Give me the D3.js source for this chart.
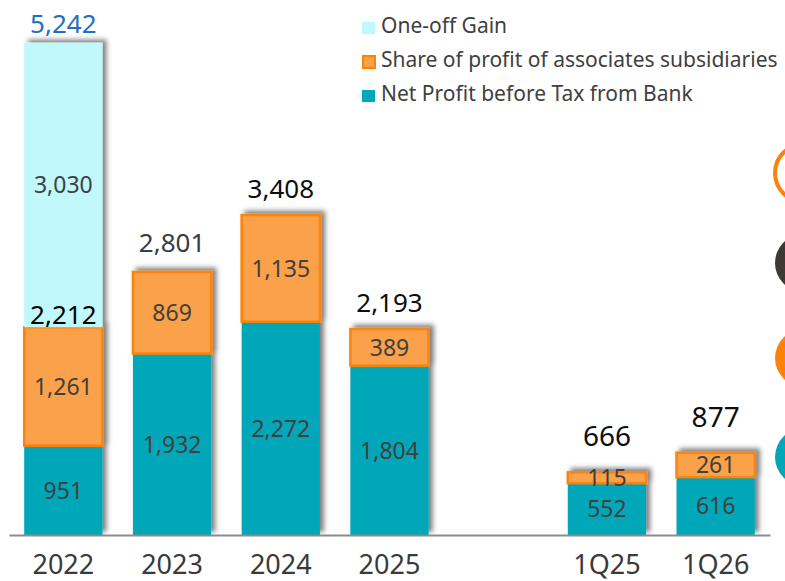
<!DOCTYPE html>
<html>
<head>
<meta charset="utf-8">
<script src="https://cdn.jsdelivr.net/npm/d3@7"></script>
<style>
  body { margin: 0; background: #fff; }
  svg { display: block; font-family: "Noto Sans", "Open Sans", sans-serif; }
</style>
</head>
<body>
<div id="chart"></div>
<script>
const categories = ['2022', '2023', '2024', '2025', '1Q25', '1Q26'];
const bankProfit = [951, 1932, 2272, 1804, 552, 616];
const associatesShare = [1261, 869, 1135, 389, 115, 261];
const oneOffGain = [3030, 0, 0, 0, 0, 0];
const totals = [5242, 2801, 3408, 2193, 666, 877];
const seriesNames = ['One-off Gain', 'Share of profit of associates subsidiaries', 'Net Profit before Tax from Bank'];

const width = 785, height = 581;
const baseY = 535;
const colors = { bank: '#00a7b9', share: '#fba148', shareStroke: '#ff8208', oneOff: '#c1f8fc' };

const svg = d3.select('#chart').append('svg')
  .attr('width', width)
  .attr('height', height);

// soft shadow under the bars
const defs = svg.append('defs');
defs.append('filter')
  .attr('id', 'shadow')
  .attr('x', '-20%').attr('y', '-20%')
  .attr('width', '140%').attr('height', '140%')
  .append('feDropShadow')
  .attr('dx', 4).attr('dy', -3)
  .attr('stdDeviation', 2.5)
  .attr('flood-color', '#000')
  .attr('flood-opacity', 0.5);

// one empty slot between the years and the quarters
const slots = categories.slice(0, 4).concat(['gap'], categories.slice(4));
const x = d3.scaleBand()
  .domain(slots)
  .range([9, 770])
  .paddingInner(0.28)
  .paddingOuter(0.14);

const y = d3.scaleLinear()
  .domain([0, 5242])
  .range([baseY, 42.7]);

const rows = categories.map((c, i) => ({
  cat: c,
  bank: bankProfit[i],
  share: associatesShare[i],
  oneOff: oneOffGain[i],
  total: totals[i]
}));

const stack = d3.stack().keys(['bank', 'share', 'oneOff'])(rows);

const barGroups = svg.append('g').selectAll('g')
  .data(rows)
  .join('g')
  .attr('filter', 'url(#shadow)');

barGroups.each(function(d, i) {
  const g = d3.select(this);
  stack.forEach(layer => {
    const seg = layer[i];
    if (seg[1] - seg[0] <= 0) return;
    const r = g.append('rect')
      .attr('x', x(d.cat))
      .attr('width', x.bandwidth())
      .attr('y', y(seg[1]))
      .attr('height', y(seg[0]) - y(seg[1]));
    if (layer.key === 'share') {
      r.attr('fill', colors.share).attr('stroke', colors.shareStroke).attr('stroke-width', 2.5);
    } else {
      r.attr('fill', layer.key === 'bank' ? colors.bank : colors.oneOff);
    }
  });
});

// values inside the segments
const inner = svg.append('g');
stack.forEach(layer => {
  layer.forEach((seg, i) => {
    const v = seg[1] - seg[0];
    if (v <= 0) return;
    inner.append('text')
      .attr('x', x(categories[i]) + x.bandwidth() / 2)
      .attr('y', (y(seg[0]) + y(seg[1])) / 2)
      .attr('dy', '0.36em')
      .attr('text-anchor', 'middle')
      .attr('font-size', 23)
      .attr('fill', '#404040')
      .text(d3.format(',')(v));
  });
});

// subtotal before the one-off gain
rows.forEach(d => {
  if (d.oneOff > 0) {
    svg.append('text')
      .attr('x', x(d.cat) + x.bandwidth() / 2)
      .attr('y', y(d.bank + d.share) - 3)
      .attr('text-anchor', 'middle')
      .attr('font-size', 26)
      .attr('fill', '#000')
      .text(d3.format(',')(d.bank + d.share));
  }
});

// totals above bars
const lift = (d, i) => d.oneOff > 0 ? 10 : (i >= 4 ? 26 : 17);
svg.append('g').selectAll('text')
  .data(rows)
  .join('text')
  .attr('x', d => x(d.cat) + x.bandwidth() / 2)
  .attr('y', (d, i) => y(d.total) - lift(d, i) - (d.cat === '2023' ? 3 : 0))
  .attr('text-anchor', 'middle')
  .attr('font-size', (d, i) => i >= 4 ? 28 : 26)
  .attr('fill', (d, i) => d.oneOff > 0 ? '#1d6fc1' : (d.cat === '2023' ? '#3c3c3c' : '#0d0d0d'))
  .text(d => d3.format(',')(d.total));

// x axis
const xAxis = svg.append('g')
  .attr('transform', 'translate(0,' + baseY + ')')
  .call(d3.axisBottom(x).tickSize(0).tickPadding(20).tickFormat(d => d === 'gap' ? '' : d));
xAxis.select('.domain').attr('stroke', '#8c8c8c').attr('stroke-width', 2);
xAxis.selectAll('text')
  .attr('font-size', 27)
  .attr('font-family', '"Noto Sans", sans-serif')
  .attr('fill', '#3a3a3a');

// legend
const legendSwatch = [
  { fill: colors.oneOff, stroke: 'none' },
  { fill: colors.share, stroke: colors.shareStroke },
  { fill: colors.bank, stroke: 'none' }
];
const legend = svg.append('g').attr('transform', 'translate(362,0)');
seriesNames.forEach((name, i) => {
  const baseline = 33 + i * 34;
  legend.append('rect')
    .attr('x', i === 1 ? 1 : 0)
    .attr('y', baseline - 11)
    .attr('width', i === 1 ? 12 : 13)
    .attr('height', 12)
    .attr('fill', legendSwatch[i].fill)
    .attr('stroke', legendSwatch[i].stroke)
    .attr('stroke-width', 2);
  legend.append('text')
    .attr('x', 19)
    .attr('y', baseline)
    .attr('font-size', 21)
    .attr('fill', '#404040')
    .text(name);
});

// decorative markers cut off at the right edge
const sideMarks = [
  { cy: 173, fill: '#fff', stroke: '#ff8208' },
  { cy: 263, fill: '#3d3a35', stroke: 'none' },
  { cy: 358, fill: '#ff8208', stroke: 'none' },
  { cy: 457, fill: '#00a7b9', stroke: 'none' }
];
svg.append('g').selectAll('circle')
  .data(sideMarks)
  .join('circle')
  .attr('cx', 804)
  .attr('cy', d => d.cy)
  .attr('r', 29)
  .attr('fill', d => d.fill)
  .attr('stroke', d => d.stroke)
  .attr('stroke-width', 4);
</script>
</body>
</html>
